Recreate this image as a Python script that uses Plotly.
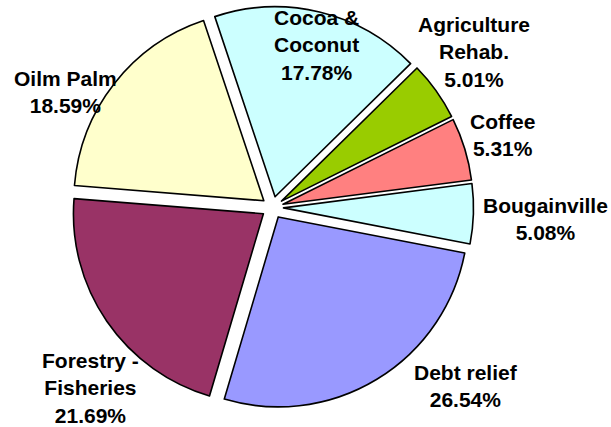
import plotly.graph_objects as go

categories = ["Cocoa & Coconut", "Agriculture Rehab.", "Coffee", "Bougainville",
              "Debt relief", "Forestry - Fisheries", "Oilm Palm"]
label_lines = ["Cocoa &<br>Coconut", "Agriculture<br>Rehab.", "Coffee", "Bougainville",
               "Debt relief", "Forestry -<br>Fisheries", "Oilm Palm"]
shares = [17.78, 5.01, 5.31, 5.08, 26.54, 21.69, 18.59]
colors = ["#CCFFFF", "#99CC00", "#FF8080", "#CCFFFF", "#9999FF", "#993366", "#FFFFCC"]

# label anchor positions in pixels (x, y) within a 611x427 canvas
label_pos = [(316, 45), (474, 52), (502, 135), (545, 219), (466, 386), (90, 388), (65, 92)]

W, H = 611, 427

fig = go.Figure(go.Pie(
    labels=categories,
    values=shares,
    sort=False,
    direction="clockwise",
    rotation=-18.5,
    pull=[0.058] * len(shares),
    marker=dict(colors=colors, line=dict(color="black", width=1.6)),
    textinfo="none",
    hoverinfo="label+percent",
    showlegend=False,
    domain=dict(x=[71.5 / W, 473.5 / W], y=[1 - 408.5 / H, 1 - 6.5 / H]),
))

for txt, v, (px, py) in zip(label_lines, shares, label_pos):
    fig.add_annotation(
        x=px / W, y=1 - py / H, xref="paper", yref="paper",
        text=f"<b>{txt}<br>{v:.2f}%</b>",
        showarrow=False, xanchor="center", yanchor="middle",
        align="center",
        font=dict(family="Arial, Liberation Sans, sans-serif", size=21, color="black"),
    )

fig.update_layout(
    width=W, height=H,
    margin=dict(l=0, r=0, t=0, b=0),
    paper_bgcolor="white",
    plot_bgcolor="white",
)

fig.write_html("out.html", config={"displayModeBar": False},
               post_script="document.body.style.margin='0';")
